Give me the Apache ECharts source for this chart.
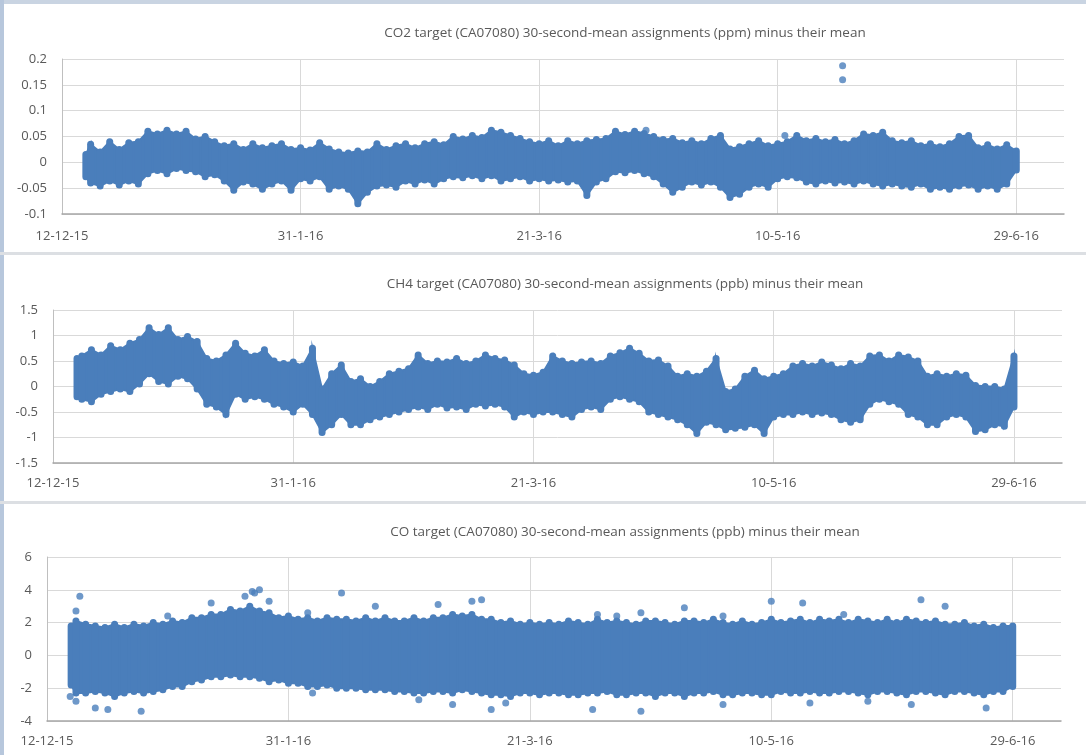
<!DOCTYPE html>
<html><head><meta charset="utf-8">
<script src="https://cdn.jsdelivr.net/npm/echarts@6/dist/echarts.min.js"></script>
<style>html,body{margin:0;padding:0;background:#fff}#c{width:1086px;height:755px}</style>
</head><body><div id="c"></div>
<script>
// Sample days (days after 12-12-2015) at which the envelope of the dense 30-second points was read
const sampleDays = [5,6,8,10,12,14,16,18,20,22, 24,26,28,30,32,34,36,38,40,42, 44,46,48,50,52,54,56,58,60,62, 64,66,68,70,72,74,76,78,80,82, 84,86,88,90,92,94,96,98,100,102, 104,106,108,110,112,114,116,118,120,122, 124,126,128,130,132,134,136,138,140,142, 144,146,148,150,152,154,156,158,160,162, 164,166,168,170,172,174,176,178,180,182, 184,186,188,190,192,194,196,198,200];

const co2High = [0.015,0.035,0.02,0.04,0.025,0.038,0.04,0.06,0.055,0.062, 0.055,0.06,0.045,0.05,0.04,0.032,0.036,0.025,0.036,0.028, 0.032,0.036,0.025,0.028,0.024,0.038,0.026,0.02,0.018,0.022, 0.02,0.036,0.025,0.032,0.036,0.028,0.036,0.04,0.034,0.05, 0.045,0.052,0.048,0.062,0.058,0.052,0.046,0.04,0.036,0.042, 0.032,0.042,0.036,0.042,0.044,0.046,0.06,0.054,0.06,0.056, 0.05,0.044,0.046,0.038,0.042,0.036,0.046,0.052,0.026,0.03, 0.036,0.042,0.032,0.036,0.04,0.052,0.042,0.046,0.04,0.044, 0.036,0.042,0.055,0.052,0.058,0.042,0.038,0.042,0.032,0.036, 0.03,0.036,0.05,0.052,0.028,0.034,0.026,0.034,0.022];
const co2Low = [-0.028,-0.04,-0.046,-0.036,-0.044,-0.036,-0.042,-0.022,-0.016,-0.022, -0.012,-0.016,-0.018,-0.028,-0.024,-0.036,-0.054,-0.038,-0.042,-0.052, -0.042,-0.036,-0.054,-0.032,-0.036,-0.028,-0.052,-0.046,-0.052,-0.08, -0.058,-0.046,-0.044,-0.048,-0.036,-0.042,-0.034,-0.042,-0.032,-0.028, -0.03,-0.026,-0.032,-0.026,-0.036,-0.032,-0.028,-0.036,-0.032,-0.036, -0.034,-0.038,-0.036,-0.064,-0.038,-0.032,-0.018,-0.02,-0.016,-0.022, -0.028,-0.042,-0.058,-0.048,-0.038,-0.044,-0.038,-0.048,-0.068,-0.062, -0.048,-0.042,-0.048,-0.032,-0.028,-0.03,-0.038,-0.042,-0.036,-0.04, -0.038,-0.042,-0.036,-0.042,-0.046,-0.042,-0.046,-0.048,-0.042,-0.052, -0.048,-0.052,-0.046,-0.044,-0.052,-0.046,-0.052,-0.042,-0.015];
const co2Outliers = [[163.6,0.187],[163.6,0.16],[151.5,0.052],[122.4,0.062]];

const ch4High = [0.55,0.6,0.72,0.62,0.8,0.72,0.85,0.92,1.15,1.02, 1.15,0.92,0.98,0.88,0.55,0.5,0.62,0.85,0.65,0.6, 0.72,0.5,0.45,0.48,0.4,0.75,-0.05,0.25,0.42,0.1, 0.15,0.0,0.1,0.25,0.3,0.35,0.62,0.45,0.5,0.48, 0.55,0.45,0.5,0.62,0.55,0.52,0.42,0.25,0.22,0.28, 0.6,0.5,0.45,0.48,0.5,0.45,0.6,0.66,0.75,0.65, 0.5,0.52,0.4,0.2,0.25,0.2,0.3,0.55,-0.1,-0.05, 0.2,0.32,0.15,0.2,0.25,0.4,0.45,0.4,0.48,0.42, 0.35,0.45,0.4,0.6,0.62,0.5,0.62,0.58,0.5,0.2, 0.25,0.2,0.25,0.22,0.02,0.0,0.0,-0.05,0.6];
const ch4Low = [-0.2,-0.25,-0.3,-0.15,-0.1,-0.05,-0.1,0.05,0.25,0.1, 0.05,0.2,0.15,-0.05,-0.35,-0.4,-0.55,-0.15,-0.25,-0.2, -0.25,-0.35,-0.4,-0.5,-0.35,-0.55,-0.9,-0.75,-0.55,-0.75, -0.75,-0.65,-0.6,-0.55,-0.5,-0.45,-0.4,-0.45,-0.35,-0.42, -0.4,-0.45,-0.35,-0.38,-0.35,-0.4,-0.6,-0.5,-0.55,-0.5, -0.5,-0.55,-0.6,-0.45,-0.4,-0.45,-0.25,-0.2,-0.25,-0.3, -0.5,-0.55,-0.6,-0.65,-0.75,-0.92,-0.7,-0.75,-0.85,-0.82, -0.8,-0.75,-0.92,-0.6,-0.55,-0.55,-0.5,-0.55,-0.52,-0.55, -0.65,-0.7,-0.65,-0.35,-0.25,-0.3,-0.35,-0.55,-0.6,-0.75, -0.75,-0.6,-0.55,-0.6,-0.88,-0.85,-0.75,-0.78,-0.4];
const ch4Outliers = [];

const coHigh = [1.8,2.1,1.9,1.8,1.7,1.9,1.7,1.9,1.8,2.0, 1.9,2.1,2.0,2.3,2.3,2.5,2.5,2.8,2.7,3.0, 2.7,2.6,2.3,2.4,2.2,2.3,2.1,2.3,2.2,2.2, 2.1,2.3,2.1,2.3,2.1,2.1,2.3,2.1,2.3,2.3, 2.5,2.4,2.5,2.2,2.2,2.0,2.1,1.9,2.0,1.9, 2.0,1.9,2.1,2.0,1.9,2.2,2.0,2.1,2.0,1.9, 2.1,2.1,2.0,1.9,2.1,2.1,2.0,2.2,2.0,1.9, 2.1,1.9,2.0,2.2,2.0,2.1,2.2,2.0,2.2,2.1, 2.2,2.0,2.2,2.1,2.0,2.2,2.0,2.2,2.1,2.0, 2.1,1.9,1.9,2.0,1.8,1.9,1.7,1.8,1.8];
const coLow = [-1.8,-2.3,-2.3,-2.2,-2.3,-2.5,-2.3,-2.2,-2.3,-2.2, -2.1,-1.9,-1.9,-1.6,-1.5,-1.3,-1.3,-1.2,-1.3,-1.3, -1.4,-1.6,-1.5,-1.7,-1.7,-1.9,-1.9,-1.8,-2.0,-2.0, -2.0,-2.1,-2.1,-2.1,-2.2,-2.2,-2.3,-2.3,-2.2,-2.2, -2.3,-2.1,-2.2,-2.3,-2.4,-2.4,-2.5,-2.3,-2.3,-2.4, -2.3,-2.3,-2.4,-2.4,-2.3,-2.3,-2.2,-2.4,-2.4,-2.3, -2.3,-2.5,-2.3,-2.3,-2.5,-2.3,-2.3,-2.2,-2.4,-2.4, -2.3,-2.3,-2.4,-2.4,-2.2,-2.3,-2.3,-2.2,-2.3,-2.3, -2.2,-2.2,-2.3,-2.4,-2.2,-2.2,-2.3,-2.4,-2.2,-2.2, -2.3,-2.4,-2.2,-2.2,-2.3,-2.4,-2.2,-2.2,-1.9];
const coOutliers = [[6.8,3.6],[6,2.7],[25,2.4],[34,3.2],[41,3.6],[42.5,3.9],[44,4.0],[43,3.8],[46,3.3],[54,2.6],[61,3.8],[68,3.0],[81,3.1],[88,3.3],[90,3.4],[114,2.5],[118,2.4],[123,2.6],[132,2.9],[140,2.4],[150,3.3],[156.5,3.2],[165,2.5],[181,3.4],[186,3.0],
  [4.8,-2.5],[6,-2.8],[10,-3.2],[12.6,-3.3],[19.5,-3.4],[55,-2.3],[77,-2.7],[84,-3.0],[92,-3.3],[95,-2.9],[113,-3.3],[123,-3.4],[140,-3.0],[158,-2.9],[170,-2.8],[179,-3.0],[194.5,-3.2]];

const xTickDays = [0,50,100,150,200];
const xTickLabels = ['12-12-15','31-1-16','21-3-16','10-5-16','29-6-16'];
const titles = ['CO2 target (CA07080) 30-second-mean assignments (ppm) minus their mean',
                'CH4 target (CA07080) 30-second-mean assignments (ppb) minus their mean',
                'CO target (CA07080) 30-second-mean assignments (ppb) minus their mean'];
const yRanges = [[-0.1,0.2,0.05],[-1.5,1.5,0.5],[-4,6,2]];

const BLUE = '#4a7ebb';
const TXT = '#595959';
const FONT = 'Open Sans';

const grids = [
  {left:62, top:59, width:1002, height:155},
  {left:53, top:310, width:1009, height:153},
  {left:47, top:557, width:1014, height:164}
];
const titleY = [28, 279, 527];

function bandSeries(g, lows, highs) {
  const data = sampleDays.map((d,i)=>[d, lows[i], highs[i]]);
  return {
    type:'custom', xAxisIndex:g, yAxisIndex:g, clip:true, silent:true, data,
    encode:{x:0, y:[1,2]},
    renderItem(params, api) {
      const i = params.dataIndex;
      const x = api.value(0);
      const pLo = api.coord([x, api.value(1)]);
      const pHi = api.coord([x, api.value(2)]);
      const children = [];
      if (i < data.length-1) {
        const n = data[i+1];
        const nLo = api.coord([n[0], n[1]]), nHi = api.coord([n[0], n[2]]);
        children.push({type:'polygon', shape:{points:[pLo,pHi,nHi,nLo]}, style:{fill:BLUE, stroke:BLUE, lineWidth:2}});
      }
      children.push({type:'line', shape:{x1:pLo[0],y1:pLo[1],x2:pHi[0],y2:pHi[1]}, style:{stroke:BLUE, lineWidth:7, lineCap:'round'}});
      return {type:'group', children};
    }
  };
}
function outlierSeries(g, pts) {
  return {type:'scatter', xAxisIndex:g, yAxisIndex:g, data:pts, symbolSize:7, itemStyle:{color:BLUE}, silent:true};
}

const xAxes = grids.map((_,g)=>({
  gridIndex:g, type:'value', min:0, max:210, interval:50,
  axisLine:{show:true, onZero:false, lineStyle:{color:'#a6a6a6', width:1.5}},
  axisTick:{show:false},
  axisLabel:{color:TXT, fontFamily:FONT, fontSize:13, margin:[16,14,14][g], showMaxLabel:false,
    formatter:v=>{const k=xTickDays.indexOf(v); return k>=0?xTickLabels[k]:'';}},
  splitLine:{show:true, showMaxLine:false, lineStyle:{color:'#d9d9d9', width:1}}
}));
const yAxes = grids.map((_,g)=>({
  gridIndex:g, type:'value', min:yRanges[g][0], max:yRanges[g][1], interval:yRanges[g][2],
  axisLine:{show:true, lineStyle:{color:'#bfbfbf', width:1}},
  axisTick:{show:false},
  axisLabel:{color:TXT, fontFamily:FONT, fontSize:13, margin:15},
  splitLine:{show:true, lineStyle:{color:'#d9d9d9', width:1}}
}));

const chart = echarts.init(document.getElementById('c'), null, {renderer:'canvas'});
chart.setOption({
  animation:false,
  backgroundColor:'#ffffff',
  title: titles.map((t,g)=>({text:t, left:620, top:titleY[g], textAlign:'center', textVerticalAlign:'middle',
    textStyle:{color:TXT, fontFamily:FONT, fontSize:13.5, fontWeight:'normal'}})),
  grid: grids,
  xAxis: xAxes,
  yAxis: yAxes,
  graphic: [
    {type:'rect', shape:{x:0,y:0,width:1086,height:4}, style:{fill:'#c9d4e2'}, silent:true},
    {type:'rect', shape:{x:0,y:0,width:4,height:755}, style:{fill:'#b7c7dc'}, silent:true},
    {type:'rect', shape:{x:0,y:252,width:1086,height:3}, style:{fill:'#dcdfe3'}, silent:true},
    {type:'rect', shape:{x:0,y:501,width:1086,height:3}, style:{fill:'#dcdfe3'}, silent:true}
  ],
  series: [
    bandSeries(0, co2Low, co2High), outlierSeries(0, co2Outliers),
    bandSeries(1, ch4Low, ch4High), outlierSeries(1, ch4Outliers),
    bandSeries(2, coLow, coHigh), outlierSeries(2, coOutliers)
  ]
});
</script></body></html>
